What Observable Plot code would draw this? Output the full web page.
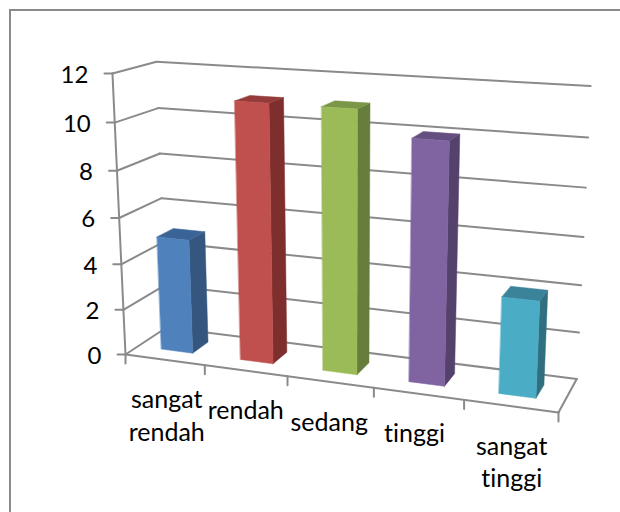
<!DOCTYPE html>
<html>
<head>
<meta charset="utf-8">
<script src="https://cdn.jsdelivr.net/npm/d3@7"></script>
<script src="https://cdn.jsdelivr.net/npm/@observablehq/plot@0.6"></script>
<style>
  html, body { margin: 0; padding: 0; background: #fff; overflow: hidden; }
  #frame { position: absolute; left: 9px; top: 9px; width: 800px; height: 800px; border: 2px solid #8a8a8a; }
  #chart { position: absolute; left: 0; top: 0; }
</style>
</head>
<body>
<div id="frame"></div>
<div id="chart"></div>
<script>
// Survey counts per category
const categories = ["sangat\nrendah", "rendah", "sedang", "tinggi", "sangat\ntinggi"];
const values = [5, 11, 11, 10, 4];
const valueTicks = [0, 2, 4, 6, 8, 10, 12];

// Front, side and top shades of each column
const frontColors = ["#4f81bd", "#c0504d", "#9bbb59", "#8064a2", "#4bacc6"];
const sideColors = ["#34567f", "#7e2f2d", "#677d3b", "#54416c", "#2f6f80"];
const topColors = ["#3a6496", "#953c3a", "#7c9647", "#654f80", "#3a8399"];

const gridColor = "#8a8a8a";
const yMax = 12;
const nCat = categories.length;

// Perspective camera: category position, value and depth to page coordinates
function project(c, v, d) {
  const u = c / nCat, t = v / yMax;
  const w = 1 - 0.103 * u - 0.055 * t + 0.06 * d;
  return [
    (125 + 375.5 * u - 19.2 * t + 50.96 * d) / w,
    (354 + 15.6 * u - 285 * t - 7.38 * d) / w
  ];
}

function segment(key, points) {
  return points.map(([c, v, d]) => {
    const [x, y] = project(c, v, d);
    return {key, x, y};
  });
}

// Walls, floor and axis lines
const lines = [];
for (const v of valueTicks) {
  if (v > 0) {
    lines.push(...segment(`left${v}`, [[0, v, 0], [0, v, 1]]));
  }
  lines.push(...segment(`back${v}`, [[0, v, 1], [nCat, v, 1]]));
}
lines.push(...segment("floorLeft", [[0, 0, 0], [0, 0, 1]]));
lines.push(...segment("floorFront", [[0, 0, 0], [nCat, 0, 0]]));
lines.push(...segment("floorRight", [[nCat, 0, 0], [nCat, 0, 1]]));
lines.push(...segment("axisY", [[0, 0, 0], [0, yMax, 0]]));

// Tick marks hang off the front edge and the left axis
const ticks = [];
for (const v of valueTicks) {
  const [x, y] = project(0, v, 0);
  ticks.push({key: `ty${v}`, x, y}, {key: `ty${v}`, x: x - 8, y});
}
for (let c = 0; c <= nCat; c++) {
  const [x, y] = project(c, 0, 0);
  ticks.push({key: `tx${c}`, x, y}, {key: `tx${c}`, x, y: y + 9});
}

// Each column is three filled faces, with side and top behind the front
const lo = 0.3, hi = 0.7;
const faces = [];
values.forEach((val, i) => {
  const c0 = i + lo, c1 = i + hi;
  const face = (name, color, pts) =>
    faces.push(...segment(`${name}${i}`, pts).map(p => ({...p, color})));
  face("side", sideColors[i], [[c1, 0, lo], [c1, 0, hi], [c1, val, hi], [c1, val, lo]]);
  face("top", topColors[i], [[c0, val, lo], [c1, val, lo], [c1, val, hi], [c0, val, hi]]);
  face("front", frontColors[i], [[c0, 0, lo], [c1, 0, lo], [c1, val, lo], [c0, val, lo]]);
});

const yLabels = valueTicks.map(v => {
  const [x, y] = project(0, v, 0);
  return {x: x - 24, y: y + 1.5, text: String(v)};
});

// Category labels sit below the front edge, shifted a little to avoid crowding
const labelShift = [2, 0, -1, -4, 1];
const xLabels = categories.map((text, i) => {
  const [x, y] = project(i + 0.5, 0, 0);
  return {x: x + labelShift[i], y: y + 25.5, text};
});

const plot = Plot.plot({
  width: 620,
  height: 512,
  margin: 0,
  x: {type: "identity", axis: null},
  y: {type: "identity", axis: null},
  color: {type: "identity"},
  style: {background: "transparent", fontFamily: "Lato, sans-serif", fontVariantLigatures: "none"},
  marks: [
    Plot.line(lines, {x: "x", y: "y", z: "key", stroke: gridColor, strokeWidth: 2, curve: "linear"}),
    Plot.line(ticks, {x: "x", y: "y", z: "key", stroke: gridColor, strokeWidth: 2, curve: "linear"}),
    Plot.line(faces, {x: "x", y: "y", z: "key", fill: "color", stroke: "color", strokeWidth: 0.5, curve: "linear-closed"}),
    Plot.text(yLabels, {x: "x", y: "y", text: "text", textAnchor: "end", fontSize: 24, fill: "#000"}),
    Plot.text(xLabels, {x: "x", y: "y", text: "text", lineAnchor: "top", lineHeight: 1.3, fontSize: 25, fill: "#000"})
  ]
});
document.getElementById("chart").append(plot);
</script>
</body>
</html>
